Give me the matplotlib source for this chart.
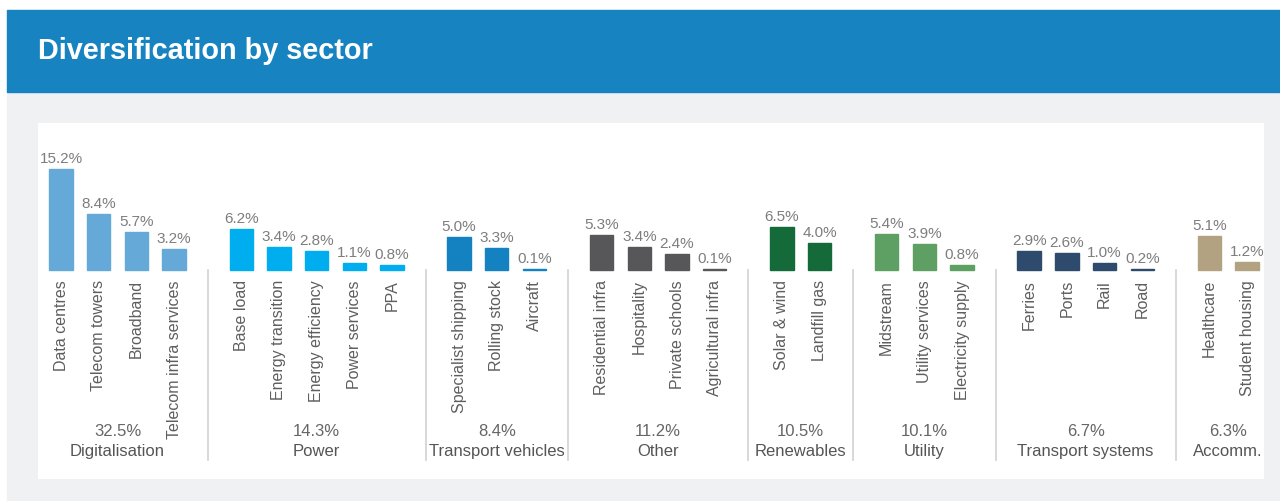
import matplotlib.pyplot as plt
from matplotlib.patches import Rectangle

# group level data
groups = ['Digitalisation', 'Power', 'Transport vehicles', 'Other',
          'Renewables', 'Utility', 'Transport systems', 'Accomm.']
group_totals = [32.5, 14.3, 8.4, 11.2, 10.5, 10.1, 6.7, 6.3]
group_colors = ['#65a9d8', '#00aeef', '#1481c1', '#575759',
                '#146a38', '#5e9f64', '#2e4b6e', '#b3a281']

# sector level data, one list per group
sector_names = [
    ['Data centres', 'Telecom towers', 'Broadband', 'Telecom infra services'],
    ['Base load', 'Energy transition', 'Energy efficiency', 'Power services', 'PPA'],
    ['Specialist shipping', 'Rolling stock', 'Aircraft'],
    ['Residential infra', 'Hospitality', 'Private schools', 'Agricultural infra'],
    ['Solar & wind', 'Landfill gas'],
    ['Midstream', 'Utility services', 'Electricity supply'],
    ['Ferries', 'Ports', 'Rail', 'Road'],
    ['Healthcare', 'Student housing'],
]
sector_values = [
    [15.2, 8.4, 5.7, 3.2],
    [6.2, 3.4, 2.8, 1.1, 0.8],
    [5.0, 3.3, 0.1],
    [5.3, 3.4, 2.4, 0.1],
    [6.5, 4.0],
    [5.4, 3.9, 0.8],
    [2.9, 2.6, 1.0, 0.2],
    [5.1, 1.2],
]

W, H = 1280, 502
fig = plt.figure(figsize=(W / 100, H / 100), dpi=100)
fig.patch.set_facecolor('white')

# grey backdrop and blue header banner
fig.patches.append(Rectangle((7 / W, 0), 1 - 7 / W, (H - 93) / H,
                             transform=fig.transFigure, color='#f0f1f3', zorder=-5))
fig.patches.append(Rectangle((7 / W, (H - 93) / H), 1 - 7 / W, 82 / H,
                             transform=fig.transFigure, color='#1783c1', zorder=-5))
fig.text(38 / W, (H - 51) / H, 'Diversification by sector', color='white',
         fontsize=20.8, fontweight='bold', family='Liberation Sans', va='center')

ax = fig.add_axes([38 / W, (H - 480) / H, (1264 - 38) / W, (480 - 124) / H])
ax.set_zorder(2)
ax.set_facecolor('white')
for s in ax.spines.values():
    s.set_visible(False)
ax.set_xticks([])
ax.set_yticks([])

gap = 0.78
width = 0.62
font = 'Liberation Sans'

i = 0
firsts, lasts = [], []
for g, (names, vals) in enumerate(zip(sector_names, sector_values)):
    xs = [i + k + g * gap for k in range(len(vals))]
    i += len(vals)
    firsts.append(xs[0])
    lasts.append(xs[-1])
    ax.bar(xs, vals, width=width, color=group_colors[g],
           edgecolor=group_colors[g], linewidth=1)
    for x, v, n in zip(xs, vals, names):
        ax.annotate('{0:.1f}%'.format(v), (x, v), xytext=(0, 3), textcoords='offset points',
                    ha='center', va='bottom', fontsize=11, color='#7d7d7d', family=font)
        ax.annotate(n, (x, 0), xytext=(0, -6.5), textcoords='offset points',
                    ha='center', va='top', rotation=90, fontsize=11.5,
                    color='#5e5e5e', family=font)
    mid = (xs[0] + xs[-1]) / 2
    ax.text(mid, -24.2, '{0:.1f}%'.format(group_totals[g]), ha='center', va='center',
            fontsize=12, color='#666666', family=font)
    ax.text(mid, -27.2, groups[g], ha='center', va='center',
            fontsize=12, color='#555555', family=font)

for a, b in zip(lasts[:-1], firsts[1:]):
    ax.plot([(a + b) / 2] * 2, [0, -28.6], color='#d6d6d6', lw=1.3)

slot = 37.7
ax.set_xlim((38 - 61) / slot, (1264 - 61) / slot)
ax.set_ylim(-(480 - 271) / 6.65, (271 - 124) / 6.65)

fig.savefig('out.png', dpi=100)
